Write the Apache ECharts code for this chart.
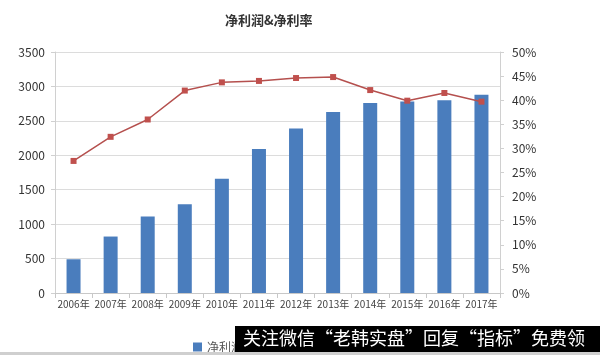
<!DOCTYPE html>
<html><head><meta charset="utf-8">
<script src="https://cdn.jsdelivr.net/npm/echarts@6/dist/echarts.min.js"></script>
<style>html,body{margin:0;padding:0;background:#fff}#c{width:600px;height:355px}</style>
</head><body><div id="c"></div>
<script>
const categories = ['2006年','2007年','2008年','2009年','2010年','2011年','2012年','2013年','2014年','2015年','2016年','2017年'];
const netProfit = [490, 820, 1110, 1290, 1660, 2090, 2390, 2630, 2760, 2780, 2800, 2880];
const netMargin = [27.4, 32.4, 36.0, 42.0, 43.7, 44.0, 44.6, 44.8, 42.1, 39.9, 41.5, 39.7];
const titleText = '净利润&净利率';
const watermark = '关注微信“老韩实盘”回复“指标”免费领';

const chart = echarts.init(document.getElementById('c'));
const font = '"Noto Sans CJK SC", "Noto Sans", sans-serif';
chart.setOption({
  animation: false,
  backgroundColor: '#fff',
  title: {text: titleText, left: 220, top: 9,
    textStyle: {fontSize: 13, fontWeight: 'bold', color: '#333', fontFamily: font}},
  legend: {left: 188, top: 336, itemWidth: 9, itemHeight: 9, itemGap: 14,
    textStyle: {fontSize: 12, color: '#555', fontFamily: font},
    data: [{name: '净利润', icon: 'rect'}, {name: '净利率'}]},
  grid: {left: 55, right: 100, top: 52, bottom: 62},
  xAxis: {type: 'category', data: categories,
    axisLine: {lineStyle: {color: '#c8c8c8'}},
    axisTick: {show: true, lineStyle: {color: '#c8c8c8'}},
    axisLabel: {fontSize: 10, color: '#444', fontFamily: font, margin: 6, interval: 0}},
  yAxis: [
    {type: 'value', min: 0, max: 3500, interval: 500,
     axisLine: {show: true, lineStyle: {color: '#d0d0d0'}},
     axisTick: {show: true, length: 4, lineStyle: {color: '#d0d0d0'}},
     axisLabel: {fontSize: 12, color: '#333', fontFamily: font, margin: 10, formatter: v => String(v)},
     splitLine: {lineStyle: {color: '#dcdcdc'}}},
    {type: 'value', min: 0, max: 50, interval: 5, position: 'right',
     axisLine: {show: true, lineStyle: {color: '#d0d0d0'}},
     axisTick: {show: true, length: 4, lineStyle: {color: '#d0d0d0'}},
     axisLabel: {fontSize: 12, color: '#333', fontFamily: font, margin: 12, formatter: '{value}%'},
     splitLine: {show: false}}
  ],
  series: [
    {name: '净利润', type: 'bar', data: netProfit, barWidth: 14,
     itemStyle: {color: '#4a7dbd'}},
    {name: '净利率', type: 'line', yAxisIndex: 1, data: netMargin,
     symbol: 'rect', symbolSize: 6,
     lineStyle: {color: '#b5504e', width: 1.5},
     itemStyle: {color: '#c0504d'}}
  ],
  graphic: [
    {type: 'rect', left: 0, top: 352, shape: {width: 600, height: 3}, style: {fill: '#cfcfcf'}, z: 100},
    {type: 'rect', left: 235, top: 326, shape: {width: 365, height: 26}, style: {fill: '#000'}, z: 100},
    {type: 'text', left: 243, top: 329, z: 101,
     style: {text: watermark, fill: '#fff', fontSize: 18, fontFamily: font}}
  ]
});
</script></body></html>
